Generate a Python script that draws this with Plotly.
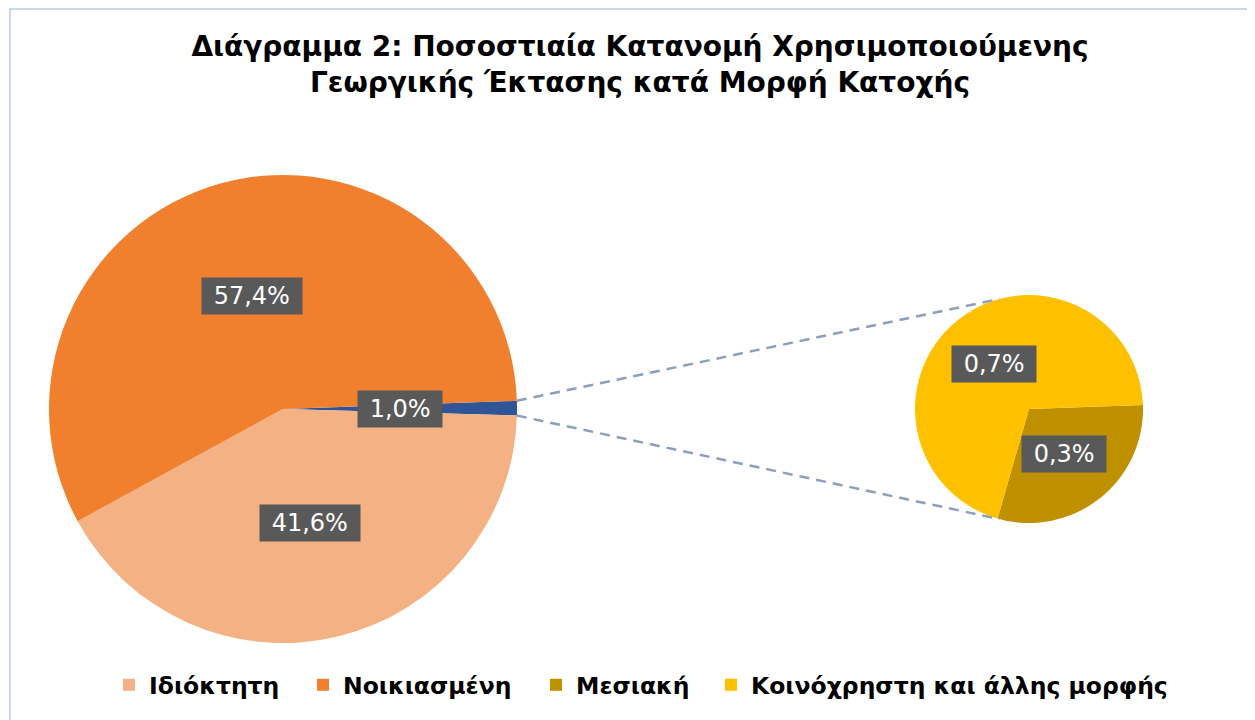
import math
import plotly.graph_objects as go

# ---- data ----
main_labels = ["Λοιπές μορφές", "Ιδιόκτητη", "Νοικιασμένη"]
main_values = [1.0, 41.6, 57.4]
main_colors = ["#2F5597", "#F4B183", "#F1802E"]

sub_labels = ["Μεσιακή", "Κοινόχρηστη και άλλης μορφής"]
sub_values = [0.3, 0.7]
sub_colors = ["#BF9000", "#FFC000"]

legend_labels = ["Ιδιόκτητη", "Νοικιασμένη", "Μεσιακή", "Κοινόχρηστη και άλλης μορφής"]
legend_colors = ["#F4B183", "#F1802E", "#BF9000", "#FFC000"]

title_text = "Διάγραμμα 2: Ποσοστιαία Κατανομή Χρησιμοποιούμενης<br>Γεωργικής Έκτασης κατά Μορφή Κατοχής"

# ---- layout geometry (page pixels; the page body adds an 8px margin) ----
OFF = 8
W, H = 1255, 720
main_c, main_r = (283 - OFF, 409 - OFF), 234
sub_c, sub_r = (1029 - OFF, 409 - OFF), 114
rotation = 88
legend_square_centers = [129, 323, 556, 731]
legend_y_page = 685


def domain(c, r):
    cx, cy = c
    return dict(x=[(cx - r) / W, (cx + r) / W], y=[(H - cy - r) / H, (H - cy + r) / H])


def to_paper(c, r, frac, ang_deg):
    a = math.radians(ang_deg)
    px = c[0] + frac * r * math.sin(a)
    py = c[1] - frac * r * math.cos(a)
    return px / W, 1 - py / H


def mid_angles(values, rot):
    tot = sum(values)
    out, cur = [], rot
    for v in values:
        span = 360 * v / tot
        out.append(cur + span / 2)
        cur += span
    return out


def fmt(v):
    return f"{v:.1f}".replace(".", ",") + "%"


fig = go.Figure()
fig.add_trace(go.Pie(labels=main_labels, values=main_values, sort=False, direction="clockwise",
                     rotation=rotation, marker=dict(colors=main_colors, line=dict(width=0)),
                     textinfo="none", hoverinfo="label+percent", showlegend=False,
                     domain=domain(main_c, main_r)))
fig.add_trace(go.Pie(labels=sub_labels, values=sub_values, sort=False, direction="clockwise",
                     rotation=rotation, marker=dict(colors=sub_colors, line=dict(width=0)),
                     textinfo="none", hoverinfo="label", showlegend=False,
                     domain=domain(sub_c, sub_r)))

legend_font = dict(family="Verdana, DejaVu Sans", size=23.5, color="black", weight="bold")
legend_layouts = {}
for i, (lab, col) in enumerate(zip(legend_labels, legend_colors)):
    key = "legend" if i == 0 else f"legend{i + 1}"
    fig.add_trace(go.Scatter(x=[None], y=[None], mode="markers", name=lab, legend=key,
                             marker=dict(symbol="square", size=12, color=col)))
    x_left = (legend_square_centers[i] - OFF - 20) / W
    legend_layouts[key] = dict(orientation="h", x=x_left, xanchor="left",
                               y=(H - (legend_y_page - OFF)) / H, yanchor="middle",
                               font=legend_font, itemwidth=30, bgcolor="rgba(0,0,0,0)")

annotations = []
box_font = dict(family="Verdana, DejaVu Sans", size=24, color="white")
for vals, c, r in [(main_values, main_c, main_r), (sub_values, sub_c, sub_r)]:
    for v, ang in zip(vals, mid_angles(vals, rotation)):
        x, y = to_paper(c, r, 0.5, ang)
        annotations.append(dict(x=x, y=y, xref="paper", yref="paper", showarrow=False,
                                xanchor="center", yanchor="middle",
                                text="\u00a0" + fmt(v) + "\u00a0", font=box_font,
                                bgcolor="#595959", borderpad=4))

# connector lines from "other" slice to secondary pie
tot = sum(main_values)
a0 = rotation
a1 = rotation + 360 * main_values[0] / tot
shapes = []
for a_main, a_sub in [(a0, 345), (a1, 195)]:
    x0, y0 = to_paper(main_c, main_r, 1.0, a_main)
    x1, y1 = to_paper(sub_c, sub_r, 1.0, a_sub)
    shapes.append(dict(type="line", xref="paper", yref="paper", x0=x0, y0=y0, x1=x1, y1=y1,
                       line=dict(color="#8C9FBC", width=2.5, dash="10px,7px")))
# chart border
shapes.append(dict(type="rect", xref="paper", yref="paper", x0=(10 - OFF) / W, y0=-0.05, x1=1.05,
                   y1=1 - (9 - OFF) / H, line=dict(color="#C9D7EC", width=2), layer="below"))

fig.update_layout(
    width=W, height=H,
    margin=dict(l=0, r=0, t=0, b=0),
    paper_bgcolor="white", plot_bgcolor="white",
    title=dict(text=title_text, x=(640 - OFF) / W, xanchor="center", y=1 - (56 - OFF) / H,
               yanchor="top",
               font=dict(family="Verdana, DejaVu Sans", size=28, color="black", weight="bold")),
    xaxis=dict(visible=False), yaxis=dict(visible=False),
    annotations=annotations,
    shapes=shapes,
    **legend_layouts,
)

fig.write_html("out.html")
